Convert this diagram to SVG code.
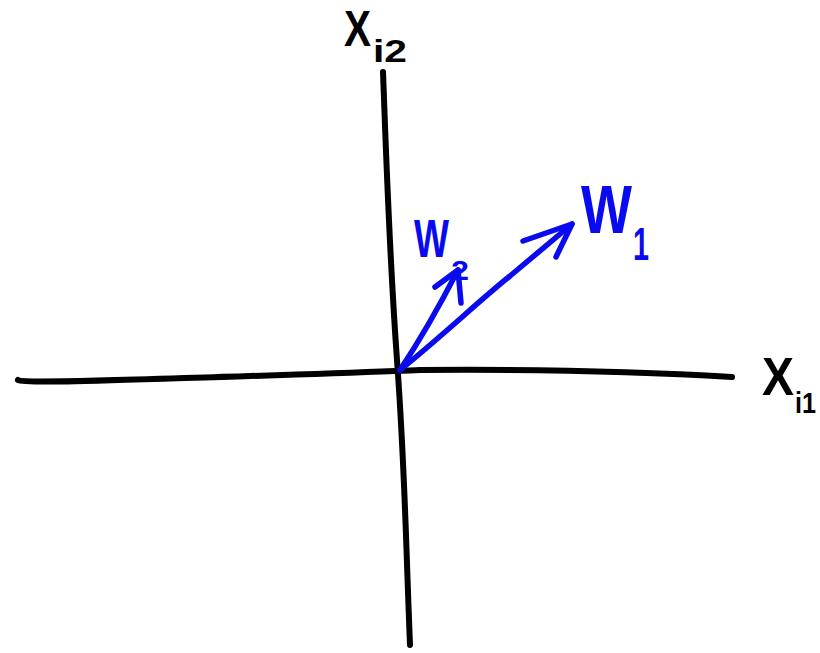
<svg xmlns="http://www.w3.org/2000/svg" width="820" height="653" viewBox="0 0 820 653">
<style>
.ax{fill:none;stroke:#000;stroke-width:6;stroke-linecap:round;stroke-linejoin:round}
.vec{fill:none;stroke:#0a0af0;stroke-width:5.5;stroke-linecap:round;stroke-linejoin:round}
.lb{font-family:"Liberation Sans",Arial,sans-serif;font-weight:bold}
.k{fill:#000}
.b{fill:#0a0af0}
</style>
<rect width="820" height="653" fill="#fff"/>
<g id="axes">
<path class="ax" d="M18,380 C24,384 120,380 250,376 S390,371 420,370 C550,369 650,372 732,377"/>
<path class="ax" d="M383,72 C386,150 389,250 397,360 S405,520 410,645"/>
</g>
<g id="connectors">
<path class="vec" d="M400,370 C440,338 480,300 510,276 L572,224"/>
<path class="vec" d="M523,241 L572,224 L556,257"/>
<path class="vec" d="M400,370 C420,340 440,305 458,270"/>
<path class="vec" d="M435,287 L458,270 L461,303"/>
</g>
<g id="label-xi2">
<text class="lb k" font-size="50"><tspan x="344" y="46" textLength="27" lengthAdjust="spacingAndGlyphs">X</tspan><tspan x="373" y="62" font-size="32" textLength="34" lengthAdjust="spacingAndGlyphs">i2</tspan></text>
</g>
<g id="label-xi1">
<text class="lb k" font-size="54"><tspan x="762" y="395" textLength="32" lengthAdjust="spacingAndGlyphs">X</tspan><tspan x="795" y="413" font-size="30" textLength="21" lengthAdjust="spacingAndGlyphs">i1</tspan></text>
</g>
<g id="label-w1">
<text class="lb b" font-size="68"><tspan x="581" y="233" textLength="51" lengthAdjust="spacingAndGlyphs">W</tspan><tspan x="633" y="260" font-size="46" textLength="16" lengthAdjust="spacingAndGlyphs">1</tspan></text>
</g>
<g id="label-w2">
<text class="lb b" font-size="54"><tspan x="414" y="257" textLength="35" lengthAdjust="spacingAndGlyphs">W</tspan><tspan x="451" y="280" font-size="28" textLength="18" lengthAdjust="spacingAndGlyphs">2</tspan></text>
</g>
</svg>
